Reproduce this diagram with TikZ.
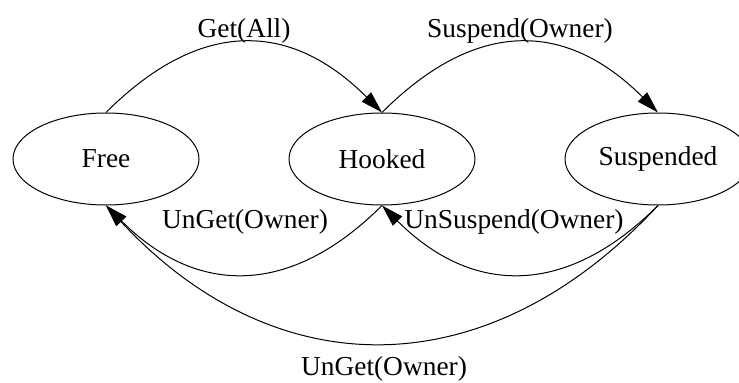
\documentclass[tikz,border=0pt]{standalone}
\usepackage{fontspec}
\setmainfont{Liberation Serif}
\usetikzlibrary{shapes.geometric, arrows.meta}
\tikzstyle{state} = [
    ellipse,
    minimum width=93pt,
    minimum height=46pt,
    inner sep=0pt,
    line width=0.5pt,
    draw=black
]
\tikzstyle{lbl} = [
    anchor=base,
    inner sep=0pt,
    font=\fontsize{13.7}{16}\selectfont
]
\tikzstyle{arrow} = [line width=0.5pt,->,>={Triangle[length=11pt,width=6.5pt]}]

\begin{document}
\begin{tikzpicture}[x=0.5pt, y=0.5pt, node distance=138pt]
\useasboundingbox (0,0) rectangle (739,382);

\node (free) [state, font=\fontsize{13.7}{16}\selectfont] at (106,223) {Free};

\node (hooked) [state, right of=free, font=\fontsize{13.7}{16}\selectfont]
{Hooked};

\node (suspended) [state, right of=hooked, font=\fontsize{13.7}{16}\selectfont]
{Suspended};

\node (getall) [lbl] at (244,345) {Get(All)};
\node (suspend) [lbl] at (520,345) {Suspend(Owner)};
\node (unget) [lbl] at (245,154) {UnGet(Owner)};
\node (unsuspend) [lbl] at (514,154) {UnSuspend(Owner)};
\node (ungetlong) [lbl] at (384,7) {UnGet(Owner)};

\draw [arrow] (free.north) .. controls +(93,93) and +(-93,93) .. (hooked.north);
\draw [arrow] (hooked.north) .. controls +(93,93) and +(-93,93) .. (suspended.north);
\draw [arrow] (hooked.south) .. controls +(-91,-91) and +(91,-91) .. (free.south);
\draw [arrow] (suspended.south) .. controls +(-91,-91) and +(91,-91) .. (hooked.south);
\draw [arrow] (suspended.south) .. controls +(-170,-183) and +(170,-183) .. (free.south);

\end{tikzpicture}
\end{document}
